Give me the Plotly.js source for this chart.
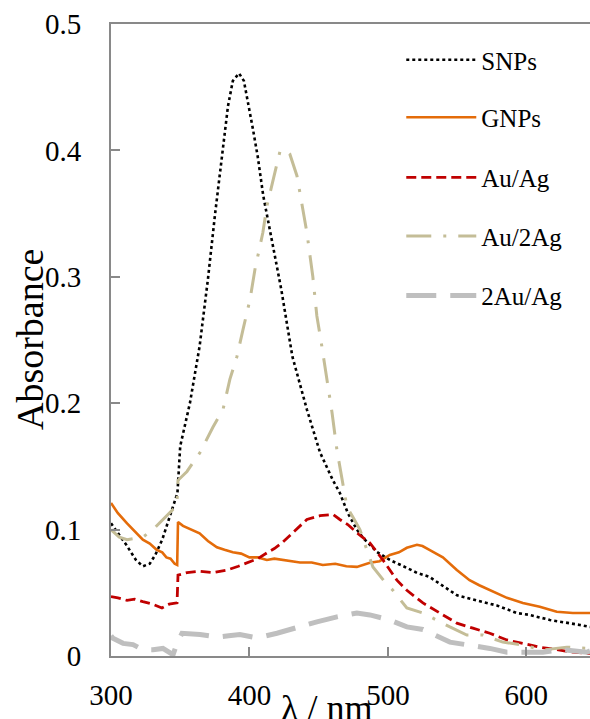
<!DOCTYPE html>
<html><head><meta charset="utf-8">
<script src="https://cdn.plot.ly/plotly-3.0.1.min.js"></script>
<style>html,body{margin:0;padding:0;background:#fff}</style>
</head><body>
<div id="chart" style="width:590px;height:719px"></div>
<script>
// Series names
const seriesNames = ["SNPs", "GNPs", "Au/Ag", "Au/2Ag", "2Au/Ag"];

// SNPs
const snpsX = [300, 311, 318, 323, 328, 332, 337, 342, 348, 350, 357, 364, 370, 375, 381, 384.5, 388, 392.5, 396, 399, 402.5, 406, 410, 416, 423, 431, 441.5, 451, 460.3, 465.3, 471.1, 477.6, 482, 492, 501.4, 513.7, 521, 530, 540, 550, 564, 578.7, 593, 602.5, 617, 626, 638.6, 646];
const snpsY = [0.105, 0.088, 0.076, 0.071, 0.073, 0.080, 0.092, 0.108, 0.129, 0.166, 0.200, 0.245, 0.298, 0.348, 0.400, 0.435, 0.455, 0.461, 0.455, 0.438, 0.417, 0.395, 0.364, 0.330, 0.290, 0.237, 0.195, 0.161, 0.139, 0.129, 0.113, 0.100, 0.0935, 0.0824, 0.076, 0.0697, 0.0658, 0.0626, 0.055, 0.048, 0.044, 0.040, 0.034, 0.0325, 0.0285, 0.027, 0.0246, 0.023];

// GNPs
const gnpsX = [300, 305, 311.6, 317, 323, 328, 333, 337, 340, 343, 346, 347.8, 348.4, 352, 358, 364, 370, 376.5, 382, 388, 394, 400, 406, 412.6, 418, 424, 430, 436.5, 445, 453, 462, 470, 477.6, 483, 487, 494, 501.4, 508, 513.7, 521, 525, 530, 539.7, 549.8, 559, 566, 573.6, 580, 586, 597.5, 609.7, 622, 633.6, 646];
const gnpsY = [0.121, 0.113, 0.105, 0.099, 0.092, 0.089, 0.084, 0.082, 0.078, 0.077, 0.073, 0.072, 0.106, 0.103, 0.100, 0.097, 0.091, 0.086, 0.084, 0.082, 0.081, 0.078, 0.078, 0.076, 0.077, 0.076, 0.075, 0.074, 0.074, 0.072, 0.073, 0.071, 0.0705, 0.072, 0.0737, 0.075, 0.080, 0.082, 0.0856, 0.088, 0.087, 0.084, 0.078, 0.068, 0.060, 0.056, 0.052, 0.049, 0.046, 0.042, 0.039, 0.035, 0.034, 0.034];

// Au/Ag
const auagX = [300, 305, 311.6, 317, 323, 330, 336.8, 342, 347.7, 348.4, 355, 364, 374, 383.8, 392, 400.4, 406, 412.6, 418, 424, 429, 434.3, 441.5, 451, 460.3, 465.3, 471, 477.6, 487, 496.4, 506.5, 513.7, 525.3, 537.5, 549.8, 561.4, 573.6, 586, 597.5, 609.7, 622, 633.6, 646];
const auagY = [0.047, 0.046, 0.044, 0.045, 0.043, 0.041, 0.038, 0.041, 0.042, 0.064, 0.066, 0.067, 0.066, 0.068, 0.071, 0.0745, 0.077, 0.0816, 0.085, 0.090, 0.095, 0.101, 0.108, 0.111, 0.112, 0.108, 0.104, 0.0975, 0.0895, 0.076, 0.060, 0.052, 0.042, 0.034, 0.026, 0.022, 0.018, 0.0127, 0.010, 0.007, 0.005, 0.003, 0.002];

// Au/2Ag
const au2agX = [300, 306, 311.6, 317, 323, 330.3, 337.5, 344.8, 347.5, 348.4, 354.9, 364.3, 373.6, 380.9, 385.9, 391, 395.3, 400.4, 404, 407.6, 409.7, 412.6, 416.2, 418.4, 422, 425, 429.2, 434.3, 437.9, 441.5, 445.8, 448.7, 452.3, 456, 459.6, 463.2, 466.8, 470.4, 474.7, 479.8, 484.8, 489.2, 497.8, 503.6, 513.7, 525.3, 544.8, 557, 568.6, 583, 597.5, 611.9, 629.2, 646];
const au2agY = [0.100, 0.094, 0.092, 0.093, 0.094, 0.100, 0.108, 0.116, 0.118, 0.139, 0.146, 0.161, 0.181, 0.195, 0.219, 0.237, 0.258, 0.282, 0.306, 0.324, 0.335, 0.356, 0.373, 0.383, 0.399, 0.401, 0.397, 0.380, 0.359, 0.335, 0.300, 0.269, 0.245, 0.219, 0.193, 0.163, 0.139, 0.118, 0.110, 0.100, 0.084, 0.0705, 0.0586, 0.052, 0.038, 0.034, 0.023, 0.0166, 0.0166, 0.011, 0.0087, 0.0048, 0.007, 0.006];

// 2Au/Ag
const au2agbX = [300, 301.4, 308.7, 315.9, 323, 330.3, 337.5, 344.8, 347.7, 351.3, 364.3, 376.5, 385, 393.1, 402.5, 412, 419.9, 431.4, 448.7, 463.2, 477.6, 487, 501.4, 513.7, 525.3, 544.8, 559.2, 573.6, 586, 602.5, 612, 626.4, 643.7, 646];
const au2agbY = [0.016, 0.014, 0.010, 0.009, 0.005, 0.005, 0.006, 0.001, 0.010, 0.018, 0.017, 0.015, 0.016, 0.017, 0.015, 0.016, 0.018, 0.022, 0.027, 0.031, 0.034, 0.0325, 0.0285, 0.023, 0.021, 0.011, 0.0087, 0.006, 0.003, 0.003, 0.003, 0.005, 0.003, 0.004];

// Axis ticks
const xTickVals = [300, 400, 500, 600];
const xTickText = ["300", "400", "500", "600"];
const yTickVals = [0, 0.1, 0.2, 0.3, 0.4, 0.5];
const yTickText = ["0", "0.1", "0.2", "0.3", "0.4", "0.5"];

const xs = [snpsX, gnpsX, auagX, au2agX, au2agbX];
const ys = [snpsY, gnpsY, auagY, au2agY, au2agbY];
const lineStyles = [
  {color: "#000000", width: 2.6, dash: "dot"},
  {color: "#E46C0A", width: 2.6, dash: "solid"},
  {color: "#C00000", width: 2.8, dash: "10px,5px"},
  {color: "#C4BD97", width: 3, dash: "25px,12px,3px,12px"},
  {color: "#BFBFBF", width: 5, dash: "30px,14px"}
];
const legendY = [0.943, 0.852, 0.757, 0.664, 0.570];
const legendIds = ["legend", "legend2", "legend3", "legend4", "legend5"];

const font = "'Liberation Serif', 'Times New Roman', serif";
const traces = seriesNames.map((n, i) => ({
  type: "scatter", mode: "lines", name: n, x: xs[i], y: ys[i],
  line: lineStyles[i], legend: legendIds[i], showlegend: true
}));

const layout = {
  width: 590, height: 719,
  margin: {l: 111, r: 0, t: 24, b: 63},
  paper_bgcolor: "#fff", plot_bgcolor: "#fff",
  showlegend: true,
  font: {family: font, color: "#000"},
  xaxis: {
    range: [300, 646], tickvals: xTickVals, ticktext: xTickText,
    ticks: "inside", ticklen: 9, tickwidth: 2, tickcolor: "#898989",
    showline: true, linecolor: "#898989", linewidth: 2, mirror: true,
    showgrid: false, zeroline: false,
    tickfont: {family: font, size: 29, color: "#000"}, ticklabelstandoff: 12
  },
  yaxis: {
    range: [0, 0.5], tickvals: yTickVals, ticktext: yTickText,
    ticks: "inside", ticklen: 9, tickwidth: 2, tickcolor: "#898989",
    showline: true, linecolor: "#898989", linewidth: 2,
    showgrid: false, zeroline: false,
    tickfont: {family: font, size: 29, color: "#000"}, ticklabelstandoff: 22
  },
  annotations: [
    {text: "Absorbance", xref: "paper", yref: "paper", x: -0.169, y: 0.5,
     textangle: -90, showarrow: false, xanchor: "center", yanchor: "middle",
     font: {family: font, size: 38, color: "#000"}},
    {text: "λ / nm", xref: "paper", yref: "paper", x: 0.449, y: -0.082,
     showarrow: false, xanchor: "center", yanchor: "middle",
     font: {family: font, size: 36, color: "#000"}}
  ]
};
legendIds.forEach((id, i) => {
  layout[id] = {
    x: 0.606, y: legendY[i], xref: "paper", yref: "paper",
    xanchor: "left", yanchor: "middle", bgcolor: "rgba(0,0,0,0)",
    borderwidth: 0, itemwidth: 70,
    font: {family: font, size: 25, color: "#000"}
  };
});

Plotly.newPlot("chart", traces, layout, {displayModeBar: false, staticPlot: true});
</script>
</body></html>
